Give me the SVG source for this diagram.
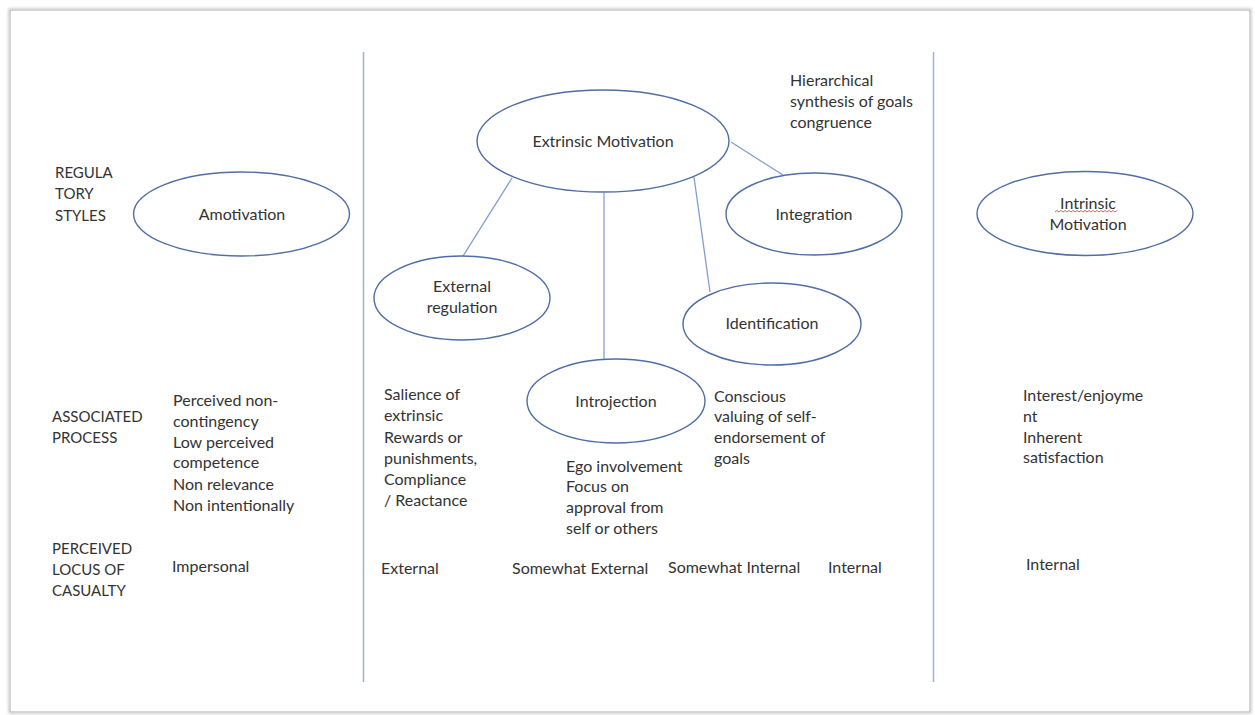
<svg xmlns="http://www.w3.org/2000/svg" width="1255" height="715" viewBox="0 0 1255 715">
  <style>
    .t { font-family: Lato, "Liberation Sans", sans-serif; font-size: 16px; fill: #333333; }
    .cap { font-size: 15px; }
    .c { text-anchor: middle; }
    .node { fill: #ffffff; stroke: #4f6ea6; stroke-width: 1.4; }
    .link { stroke: #7f9ed3; stroke-width: 1.3; fill: none; }
    .divider { stroke: #9ab3dc; stroke-width: 1.5; }
  </style>
  <defs>
    <filter id="soft" x="-5%" y="-5%" width="110%" height="110%">
      <feGaussianBlur stdDeviation="1.5"/>
    </filter>
  </defs>

  <!-- page -->
  <rect x="0" y="0" width="1255" height="715" fill="#ffffff"/>
  <rect x="10" y="10" width="1240" height="702" fill="none" stroke="#b5b5b5" stroke-width="2.5" filter="url(#soft)"/>
  <rect x="11" y="11" width="1238" height="700" fill="#ffffff"/>

  <!-- column dividers -->
  <line class="divider" x1="363.5" y1="52" x2="363.5" y2="682"/>
  <line class="divider" x1="933.5" y1="52" x2="933.5" y2="682"/>

  <!-- connectors -->
  <g id="connectors">
    <line class="link" x1="512" y1="178" x2="463" y2="256"/>
    <line class="link" x1="604" y1="193" x2="604" y2="360"/>
    <line class="link" x1="694" y1="177" x2="710" y2="292"/>
    <line class="link" x1="731" y1="142" x2="783" y2="175"/>
  </g>

  <!-- row headings -->
  <g id="row-labels">
    <text class="t cap" x="55" y="178">REGULA</text>
    <text class="t cap" x="55" y="199">TORY</text>
    <text class="t cap" x="55" y="221">STYLES</text>
    <text class="t cap" x="52" y="422">ASSOCIATED</text>
    <text class="t cap" x="52" y="443">PROCESS</text>
    <text class="t cap" x="52" y="554">PERCEIVED</text>
    <text class="t cap" x="52" y="575">LOCUS OF</text>
    <text class="t cap" x="52" y="596">CASUALTY</text>
  </g>

  <g id="amotivation">
    <ellipse class="node" cx="241.5" cy="214" rx="108" ry="42"/>
    <text class="t c" x="242" y="220">Amotivation</text>
  </g>

  <g id="extrinsic-motivation">
    <ellipse class="node" cx="603" cy="141" rx="126" ry="51"/>
    <text class="t c" x="603" y="147">Extrinsic Motivation</text>
  </g>

  <g id="integration">
    <ellipse class="node" cx="814" cy="214" rx="88" ry="41"/>
    <text class="t c" x="814" y="220">Integration</text>
  </g>

  <g id="external-regulation">
    <ellipse class="node" cx="462" cy="298" rx="88" ry="42"/>
    <text class="t c" x="462" y="292">External</text>
    <text class="t c" x="462" y="313">regulation</text>
  </g>

  <g id="identification">
    <ellipse class="node" cx="772" cy="324" rx="89" ry="41"/>
    <text class="t c" x="772" y="329">Identification</text>
  </g>

  <g id="introjection">
    <ellipse class="node" cx="616" cy="401" rx="89" ry="42"/>
    <text class="t c" x="616" y="407">Introjection</text>
  </g>

  <g id="intrinsic-motivation">
    <ellipse class="node" cx="1085" cy="213.5" rx="108" ry="42"/>
    <text class="t c" x="1088" y="209">Intrinsic</text>
    <text class="t c" x="1088" y="230">Motivation</text>
    <path d="M1055 212 l2 -1.5 l2 1.5 l2 -1.5 l2 1.5 l2 -1.5 l2 1.5 l2 -1.5 l2 1.5 l2 -1.5 l2 1.5 l2 -1.5 l2 1.5 l2 -1.5 l2 1.5 l2 -1.5 l2 1.5 l2 -1.5 l2 1.5 l2 -1.5 l2 1.5 l2 -1.5 l2 1.5 l2 -1.5 l2 1.5 l2 -1.5 l2 1.5 l2 -1.5 l2 1.5 l2 -1.5 l2 1.5 l2 -1.5" fill="none" stroke="#e05050" stroke-width="0.9"/>
  </g>

  <!-- descriptive texts -->
  <g id="goals-note">
    <text class="t" x="790" y="86">Hierarchical</text>
    <text class="t" x="790" y="107">synthesis of goals</text>
    <text class="t" x="790" y="128">congruence</text>
  </g>

  <g id="amotivation-process">
    <text class="t" x="173" y="406">Perceived non-</text>
    <text class="t" x="173" y="427">contingency</text>
    <text class="t" x="173" y="448">Low perceived</text>
    <text class="t" x="173" y="468">competence</text>
    <text class="t" x="173" y="490">Non relevance</text>
    <text class="t" x="173" y="511">Non intentionally</text>
    <text class="t" x="172" y="572">Impersonal</text>
  </g>

  <g id="external-process">
    <text class="t" x="384" y="400">Salience of</text>
    <text class="t" x="384" y="421">extrinsic</text>
    <text class="t" x="384" y="443">Rewards or</text>
    <text class="t" x="384" y="464">punishments,</text>
    <text class="t" x="384" y="485">Compliance</text>
    <text class="t" x="384" y="506">/ Reactance</text>
    <text class="t" x="381" y="574">External</text>
  </g>

  <g id="introjection-process">
    <text class="t" x="566" y="472">Ego involvement</text>
    <text class="t" x="566" y="492">Focus on</text>
    <text class="t" x="566" y="513">approval from</text>
    <text class="t" x="566" y="534">self or others</text>
    <text class="t" x="512" y="574">Somewhat External</text>
  </g>

  <g id="identification-process">
    <text class="t" x="714" y="402">Conscious</text>
    <text class="t" x="714" y="422">valuing of self-</text>
    <text class="t" x="714" y="443">endorsement of</text>
    <text class="t" x="714" y="464">goals</text>
    <text class="t" x="668" y="573">Somewhat Internal</text>
  </g>

  <g id="integration-process">
    <text class="t" x="828" y="573">Internal</text>
  </g>

  <g id="intrinsic-process">
    <text class="t" x="1023" y="401">Interest/enjoyme</text>
    <text class="t" x="1023" y="422">nt</text>
    <text class="t" x="1023" y="443">Inherent</text>
    <text class="t" x="1023" y="463">satisfaction</text>
    <text class="t" x="1026" y="570">Internal</text>
  </g>
</svg>
